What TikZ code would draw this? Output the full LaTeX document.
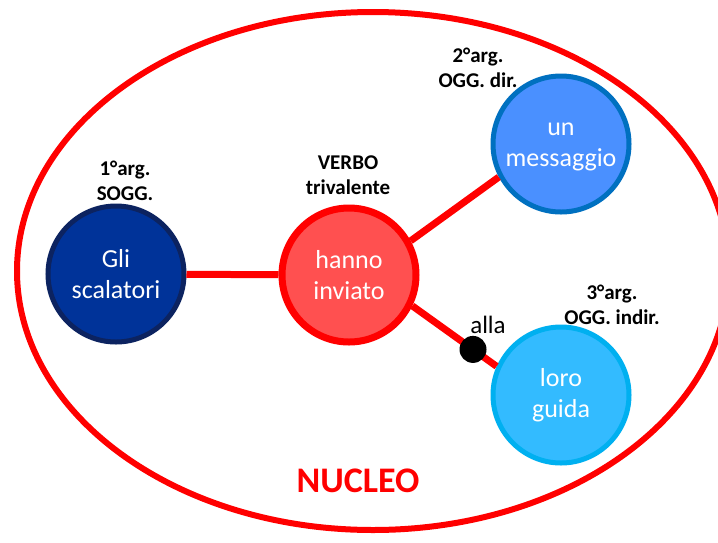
\documentclass[tikz,border=0pt]{standalone}
\usepackage{fontspec}
\setmainfont{Carlito}
\begin{document}
\begin{tikzpicture}[x=1pt,y=-1pt,
  arg/.style={circle, inner sep=0pt, align=center, text=white,
    font=\fontsize{26}{31.5}\selectfont},
  lab/.style={align=center, inner sep=0pt, font=\bfseries\fontsize{21}{25}\selectfont},
  edge/.style={draw=nred, line width=7pt},
  dotnode/.style={circle, fill=black, inner sep=0pt, minimum size=27pt}]
\definecolor{nred}{RGB}{255,0,0}
\definecolor{gliF}{RGB}{0,51,153}
\definecolor{gliD}{RGB}{12,35,96}
\definecolor{hanF}{RGB}{255,80,80}
\definecolor{msgF}{RGB}{74,144,255}
\definecolor{msgD}{RGB}{0,112,192}
\definecolor{lorF}{RGB}{51,187,255}
\definecolor{lorD}{RGB}{0,176,240}
\useasboundingbox (0,0) rectangle (718,542);
\clip (0,0) rectangle (718,542);
\fill[white] (0,0) rectangle (718,542);
\draw[nred, line width=6pt] (373,271) ellipse [x radius=356, y radius=259];
\node[arg, fill=gliF, draw=gliD, line width=5pt, minimum size=136pt] (gli) at (116,274) {Gli\\scalatori};
\node[arg, fill=hanF, draw=nred, line width=7pt, minimum size=134pt] (hanno) at (349,275) {hanno\\inviato};
\node[arg, fill=msgF, draw=msgD, line width=5pt, minimum size=136pt] (msg) at (561,144) {\vphantom{l}un\\messaggio};
\node[arg, fill=lorF, draw=lorD, line width=5pt, minimum size=136pt] (loro) at (561,395) {loro\\guida};
\draw[edge] (gli) -- (hanno);
\draw[edge] (hanno.29) -- (msg.208);
\draw[edge] (hanno.-26) -- node[pos=0.72, dotnode] (dot) {} (loro.156);
\node[anchor=base, inner sep=0pt, font=\fontsize{25}{30}\selectfont] (alla) at (488,333) {alla};
\node[lab] (l1) at (125,181) {1°arg.\\SOGG.};
\node[lab] (lv) at (348,175) {VERBO\\trivalente};
\node[lab] (l2) at (478,68) {2°arg.\\OGG. dir.};
\node[lab] (l3) at (612,305) {3°arg.\\OGG. indir.};
\node[inner sep=0pt, text=nred, font=\bfseries\fontsize{36}{43}\selectfont] (nucleo) at (358,481) {NUCLEO};
\end{tikzpicture}
\end{document}
